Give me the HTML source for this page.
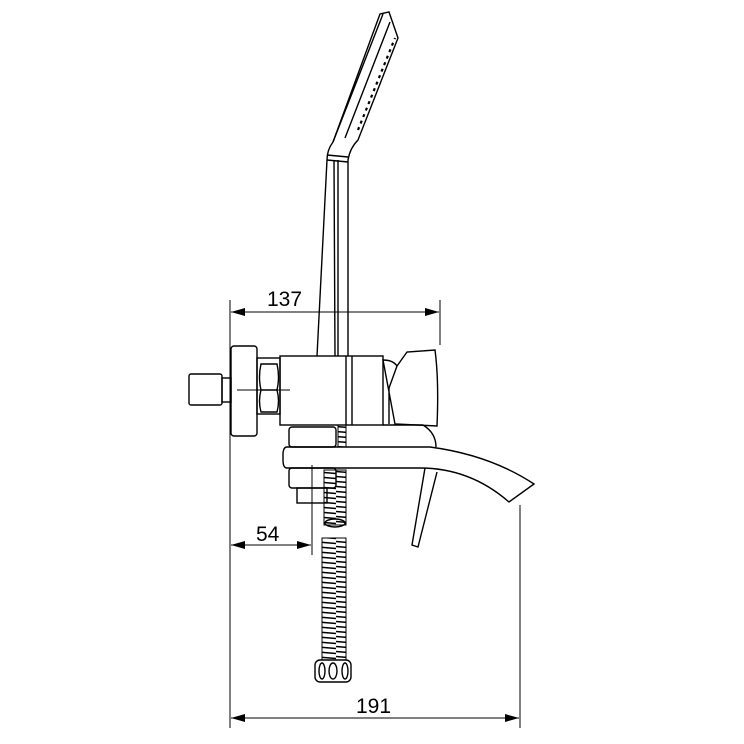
<!DOCTYPE html>
<html><head><style>body{margin:0;background:#fff}svg{display:block}text{font-family:"Liberation Sans",sans-serif;font-size:21px}</style></head><body>
<svg width="744" height="744" viewBox="0 0 744 744" fill="none" stroke="#000" stroke-width="1.4">
<defs><marker id="a" markerWidth="14" markerHeight="8" refX="14" refY="4" orient="auto-start-reverse" markerUnits="userSpaceOnUse"><path d="M0,0L14,4L0,8z" fill="#000" stroke="none"/></marker>
<pattern id="h" width="24" height="5" patternUnits="userSpaceOnUse"><path d="M0,1.5L24,3.5" stroke="#000" stroke-width="1.4"/></pattern></defs>
<g stroke-width="1">
<line x1="230" y1="300" x2="230" y2="728"/>
<line x1="440" y1="300" x2="440" y2="345"/>
<line x1="520" y1="505" x2="520" y2="728"/>
<line x1="312" y1="465" x2="312" y2="555"/>
<line x1="231" y1="312" x2="439" y2="312" marker-start="url(#a)" marker-end="url(#a)"/>
<line x1="231" y1="545" x2="311" y2="545" marker-start="url(#a)" marker-end="url(#a)"/>
<line x1="231" y1="718" x2="519" y2="718" marker-start="url(#a)" marker-end="url(#a)"/>
<line x1="237" y1="390" x2="290" y2="390"/>
</g>
<g fill="#000" stroke="none"><text x="267" y="306">137</text><text x="256" y="541">54</text><text x="356" y="713">191</text></g>
<path d="M317,356 L327,160 Q327,150 333,142 L380,14 L389,12 L398,38 L358,140 Q350,148 348,160 L348,356"/>
<path d="M333,142 L383,14 M345,138 L390,22 M327,160 L348,162 M327,155 L348,157 M334,160 L335,356 M338,160 L338,356"/>
<path d="M358,130 L395,38" stroke-dasharray="3,4" stroke-width="2.2"/>
<rect x="189" y="374" width="33" height="31" rx="2"/>
<rect x="222" y="378" width="9" height="24"/>
<rect x="231" y="346" width="26" height="90" rx="3"/>
<rect x="257" y="358" width="23" height="56"/>
<path d="M261,364 h16 q3,13 0,26 h-16 q-3,-13 0,-26z M261,390 h16 q3,11 0,22 h-16 q-3,-11 0,-22z"/>
<rect x="280" y="356" width="103" height="69"/>
<path d="M346,356v69 M352,356v69"/>
<path d="M383,360 q10,0 14,6 l10,-14 l28,-2 q4,30 2,76 l-42,-2 z M397,366 l-8,22 v36"/>
<path d="M383,425 l40,0 q13,8 13,22"/>
<rect x="289" y="427" width="47" height="20" rx="3"/>
<path d="M287,447 H430 Q490,455 534,484 L509,502 Q470,468 420,468 H287 Q283,468 283,460 V455 Q283,447 287,447 z"/>
<path d="M425,468 L412,545 L418,547 L437,472"/>
<rect x="289" y="468" width="47" height="20" rx="3"/>
<rect x="297" y="488" width="30" height="15"/>
<rect x="338" y="425" width="8" height="22" fill="url(#h)" stroke-width="1"/>
<rect x="324" y="470" width="22" height="55" fill="url(#h)" stroke-width="1"/>
<ellipse cx="335" cy="523" rx="10" ry="4"/>
<rect x="322" y="538" width="24" height="122" fill="url(#h)" stroke-width="1"/>
<rect x="315" y="660" width="36" height="22" rx="5"/>
<ellipse cx="322" cy="671" rx="3" ry="8"/><ellipse cx="333" cy="671" rx="4" ry="8"/><ellipse cx="345" cy="671" rx="3" ry="8"/>
</svg>
</body></html>
